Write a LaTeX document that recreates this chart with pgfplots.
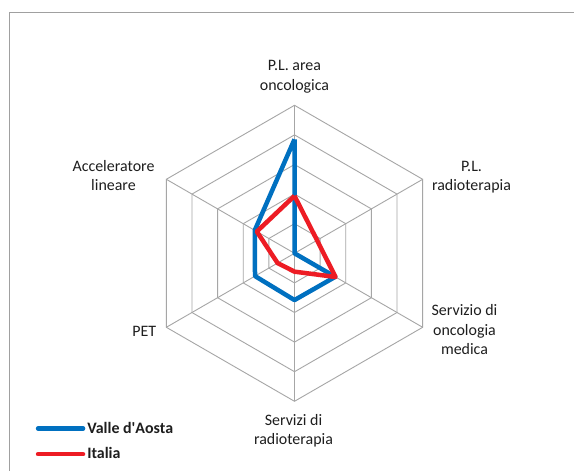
\documentclass[border=0pt]{standalone}
\usepackage{pgfplots}
\pgfplotsset{compat=1.18}
\usepackage{fontspec}
\setmainfont{Carlito}
\definecolor{vdablue}{RGB}{0,112,192}
\definecolor{itred}{RGB}{237,28,36}
\definecolor{gridgray}{RGB}{166,166,166}
\definecolor{framegray}{RGB}{160,160,160}
\definecolor{txt}{RGB}{30,30,30}
\begin{document}
\begin{tikzpicture}[x=1bp,y=1bp]
\useasboundingbox (-294.5,-217.7) rectangle (279.5,253.3);
\fill[white] (-294.5,-217.7) rectangle (279.5,253.3);
\draw[framegray, line width=1bp] (-284.5,-240) -- (-284.5,240.3) -- (300,240.3);
\begin{axis}[
  at={(0,0)}, anchor=center,
  scale only axis, width=592bp, height=592bp,
  xmin=-10, xmax=10, ymin=-10, ymax=10,
  hide axis, clip=false,
  legend style={at={(axis description cs:0.0627,0.2185)}, anchor=north west,
    draw=none, fill=none, inner sep=0pt, font=\fontsize{16}{19}\selectfont\bfseries,
    text=txt, row sep=9bp, cells={anchor=west}},
  legend image code/.code={\draw[#1, line cap=round] (0bp,0bp) -- (45bp,0bp);},
]
% grid rings
\foreach \k in {1,2,3,4,5} {
  \addplot[gridgray, line width=0.9bp, forget plot, data cs=polar]
    coordinates {(90,\k) (30,\k) (-30,\k) (-90,\k) (-150,\k) (150,\k) (90,\k)};
}
% spokes
\addplot[gridgray, line width=0.9bp, forget plot, data cs=polar] coordinates {(90,0) (90,5)};
\addplot[gridgray, line width=0.9bp, forget plot, data cs=polar] coordinates {(30,0) (30,5)};
\addplot[gridgray, line width=0.9bp, forget plot, data cs=polar] coordinates {(-30,0) (-30,5)};
\addplot[gridgray, line width=0.9bp, forget plot, data cs=polar] coordinates {(-90,0) (-90,5)};
\addplot[gridgray, line width=0.9bp, forget plot, data cs=polar] coordinates {(-150,0) (-150,5)};
\addplot[gridgray, line width=0.9bp, forget plot, data cs=polar] coordinates {(150,0) (150,5)};
% series
\addplot[vdablue, line width=4.5bp, line join=round, data cs=polar]
  coordinates {(90,3.85) (30,0) (-30,1.59) (-90,1.58) (-150,1.54) (150,1.55) (90,3.85)};
\addlegendentry{Valle d\textquotesingle Aosta}
\addplot[itred, line width=4.5bp, line join=round, data cs=polar]
  coordinates {(90,1.94) (30,0.88) (-30,1.60) (-90,0.62) (-150,0.66) (150,1.47) (90,1.94)};
\addlegendentry{Italia}
\end{axis}
\begin{scope}[every node/.style={font=\fontsize{16}{19}\selectfont, text=txt, anchor=base, inner sep=0pt}]
\node at (0,182.6) {P.L. area};
\node at (0,162.6) {oncologica};
\node at (177,81.6) {P.L.};
\node at (177,62.8) {radioterapia};
\node at (170,-62.7) {Servizio di};
\node at (170,-82.2) {oncologia};
\node at (170,-101.7) {medica};
\node at (-1,-172.7) {Servizi di};
\node at (-1,-191.7) {radioterapia};
\node at (-150.3,-83.4) {PET};
\node at (-181,81.6) {Acceleratore};
\node at (-181,62.8) {lineare};
\end{scope}
\end{tikzpicture}
\end{document}
